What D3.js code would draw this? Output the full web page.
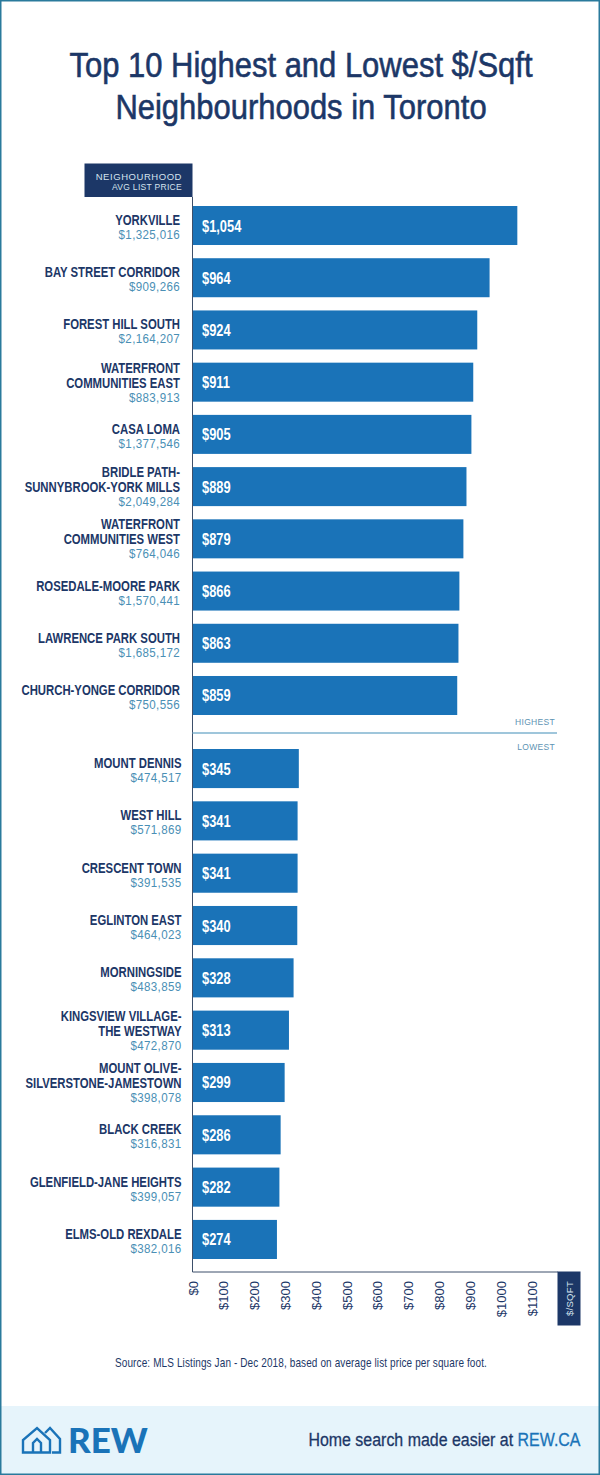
<!DOCTYPE html>
<html>
<head>
<meta charset="utf-8">
<script src="https://cdn.jsdelivr.net/npm/d3@7"></script>
<style>
  html, body { margin: 0; padding: 0; background: #fff; }
  svg { display: block; }
  text { font-family: "Liberation Sans", sans-serif; }
</style>
</head>
<body>
<div id="chart"></div>
<script>
// highest group
const highNames = [
  ["YORKVILLE"],
  ["BAY STREET CORRIDOR"],
  ["FOREST HILL SOUTH"],
  ["WATERFRONT", "COMMUNITIES EAST"],
  ["CASA LOMA"],
  ["BRIDLE PATH-", "SUNNYBROOK-YORK MILLS"],
  ["WATERFRONT", "COMMUNITIES WEST"],
  ["ROSEDALE-MOORE PARK"],
  ["LAWRENCE PARK SOUTH"],
  ["CHURCH-YONGE CORRIDOR"],
];
const highPrices = ["$1,325,016", "$909,266", "$2,164,207", "$883,913", "$1,377,546",
  "$2,049,284", "$764,046", "$1,570,441", "$1,685,172", "$750,556"];
const highValues = [1054, 964, 924, 911, 905, 889, 879, 866, 863, 859];

// lowest group
const lowNames = [
  ["MOUNT DENNIS"],
  ["WEST HILL"],
  ["CRESCENT TOWN"],
  ["EGLINTON EAST"],
  ["MORNINGSIDE"],
  ["KINGSVIEW VILLAGE-", "THE WESTWAY"],
  ["MOUNT OLIVE-", "SILVERSTONE-JAMESTOWN"],
  ["BLACK CREEK"],
  ["GLENFIELD-JANE HEIGHTS"],
  ["ELMS-OLD REXDALE"],
];
const lowPrices = ["$474,517", "$571,869", "$391,535", "$464,023", "$483,859",
  "$472,870", "$398,078", "$316,831", "$399,057", "$382,016"];
const lowValues = [345, 341, 341, 340, 328, 313, 299, 286, 282, 274];

const axisTicks = [0, 100, 200, 300, 400, 500, 600, 700, 800, 900, 1000, 1100];

const W = 600, H = 1475;
const navy = "#1c3767", blue = "#1a73b8", priceBlue = "#4a8fb5", lineBlue = "#7fb3cf";

const svg = d3.select("#chart").append("svg").attr("width", W).attr("height", H);

// no condensed font installed, so squeeze the text sideways
function squeeze(sel, px, py, sx) {
  return sel.attr("transform", `translate(${px},${py}) scale(${sx},1)`);
}

svg.append("rect").attr("width", W).attr("height", H).attr("fill", "#fff");

// footer band goes under the frame
svg.append("rect").attr("x", 0).attr("y", 1406).attr("width", W).attr("height", 69).attr("fill", "#e6f4fb");
svg.append("rect").attr("x", 0.75).attr("y", 0.75).attr("width", W - 1.5).attr("height", H - 1.5)
  .attr("fill", "none").attr("stroke", "#2a7a9c").attr("stroke-width", 1.5);

// title, stroked a little to get the medium weight
svg.append("g").selectAll("text")
  .data(["Top 10 Highest and Lowest $/Sqft", "Neighbourhoods in Toronto"])
  .join("text")
  .attr("transform", (d, i) => `translate(301,${77 + i * 41.5}) scale(0.885,1)`)
  .attr("text-anchor", "middle")
  .attr("font-size", 35)
  .attr("fill", navy)
  .attr("stroke", navy)
  .attr("stroke-width", 0.6)
  .text(d => d);

// scales
const x = d3.scaleLinear().domain([0, 1100]).range([192.5, 531.5]);
const yHigh = d3.scaleBand().domain(d3.range(10)).range([206, 715]).paddingInner(0.253);
const yLow = d3.scaleBand().domain(d3.range(10)).range([749, 1259]).paddingInner(0.253);

function drawGroup(names, prices, values, y, labelX) {
  const row = svg.append("g").selectAll("g")
    .data(values)
    .join("g")
    .attr("transform", (d, i) => `translate(0,${y(i)})`);

  row.append("rect")
    .attr("x", x(0))
    .attr("y", 0)
    .attr("width", d => x(d) - x(0))
    .attr("height", y.bandwidth())
    .attr("fill", blue);

  row.append("text")
    .call(squeeze, x(0) + 9.5, y.bandwidth() / 2 + 6, 0.78)
    .attr("font-size", 16.5)
    .attr("font-weight", "bold")
    .attr("fill", "#fff")
    .text(d => "$" + d3.format(",")(d));

  row.each(function (d, i) {
    const g = d3.select(this);
    const lines = names[i];
    const first = lines.length > 1 ? 10 : 19;
    lines.forEach((t, j) => {
      g.append("text")
        .call(squeeze, labelX, first + j * 15, 0.81)
        .attr("text-anchor", "end")
        .attr("font-size", 14)
        .attr("font-weight", "bold")
        .attr("fill", navy)
        .text(t);
    });
    g.append("text")
      .call(squeeze, labelX, first + lines.length * 15 - 1, 0.89)
      .attr("text-anchor", "end")
      .attr("font-size", 13)
      .attr("letter-spacing", 0.4)
      .attr("fill", priceBlue)
      .text(prices[i]);
  });
}

drawGroup(highNames, highPrices, highValues, yHigh, 180);
drawGroup(lowNames, lowPrices, lowValues, yLow, 181.5);

// header box
svg.append("rect").attr("x", 84.5).attr("y", 163.5).attr("width", 108).attr("height", 33.5).attr("fill", navy);
svg.append("text").attr("x", 182).attr("y", 179.5)
  .attr("text-anchor", "end").attr("font-size", 9.5).attr("letter-spacing", 0.55).attr("fill", "#d5e3ee").text("NEIGHOURHOOD");
svg.append("text").attr("x", 182).attr("y", 189.5)
  .attr("text-anchor", "end").attr("font-size", 8.5).attr("letter-spacing", 0.3).attr("fill", "#d5e3ee").text("AVG LIST PRICE");

// vertical baseline
svg.append("line").attr("x1", x(0)).attr("x2", x(0)).attr("y1", 197).attr("y2", 1272)
  .attr("stroke", "#3d4f6a").attr("stroke-width", 1);

// divider between groups
svg.append("line").attr("x1", x(0)).attr("x2", 557).attr("y1", 733).attr("y2", 733)
  .attr("stroke", lineBlue).attr("stroke-width", 1.5);
svg.append("text").attr("x", 555).attr("y", 725)
  .attr("text-anchor", "end").attr("font-size", 8.5).attr("letter-spacing", 0.3).attr("fill", "#5d93b3").text("HIGHEST");
svg.append("text").attr("x", 555).attr("y", 750)
  .attr("text-anchor", "end").attr("font-size", 8.5).attr("letter-spacing", 0.3).attr("fill", "#5d93b3").text("LOWEST");

// x axis
const axis = svg.append("g")
  .attr("transform", "translate(0,1272)")
  .call(d3.axisBottom(x).tickValues(axisTicks).tickSize(0).tickFormat(d => "$" + d));
axis.select(".domain").remove();
axis.selectAll("text")
  .attr("transform", "rotate(-90)")
  .attr("x", -9)
  .attr("y", 0)
  .attr("dy", "0.35em")
  .attr("text-anchor", "end")
  .attr("font-size", 13)
  .attr("fill", navy);
svg.append("line").attr("x1", x(0)).attr("x2", 558).attr("y1", 1272).attr("y2", 1272)
  .attr("stroke", "#3d4f6a").attr("stroke-width", 1);

// $/SQFT box
svg.append("rect").attr("x", 557.5).attr("y", 1271.5).attr("width", 23).attr("height", 54).attr("fill", navy);
svg.append("text")
  .attr("transform", "translate(573,1281) rotate(-90)")
  .attr("text-anchor", "end").attr("font-size", 9.5).attr("letter-spacing", 0.3).attr("fill", "#d5e3ee").text("$/SQFT");

// source
svg.append("text")
  .call(squeeze, 301, 1367, 0.8)
  .attr("text-anchor", "middle").attr("font-size", 12.5).attr("letter-spacing", 0.15).attr("fill", navy)
  .text("Source: MLS Listings Jan - Dec 2018, based on average list price per square foot.");

// footer logo
const logo = svg.append("g").attr("fill", "none").attr("stroke", blue).attr("stroke-width", 2.4);
logo.append("path").attr("d", "M23 1452.5 V1440 L37 1428 L50 1440 V1452.5 Z");
logo.append("path").attr("d", "M45 1433 L50 1428 L60 1439 V1452.5 H52");
logo.append("path").attr("d", "M33 1452 V1443 L37 1439 L41 1443 V1452");
svg.append("text").attr("x", 68).attr("y", 1453)
  .style("font-family", "Lato, 'Open Sans', sans-serif")
  .attr("font-weight", 900).attr("font-size", 35).attr("fill", blue).text("REW");

const tag = svg.append("text")
  .call(squeeze, 580.5, 1446, 0.84)
  .attr("text-anchor", "end").attr("font-size", 19).attr("fill", navy)
  .attr("stroke-width", 0.3);
tag.append("tspan").attr("stroke", navy).text("Home search made easier at ");
tag.append("tspan").attr("fill", blue).attr("stroke", blue).text("REW.CA");
</script>
</body>
</html>
